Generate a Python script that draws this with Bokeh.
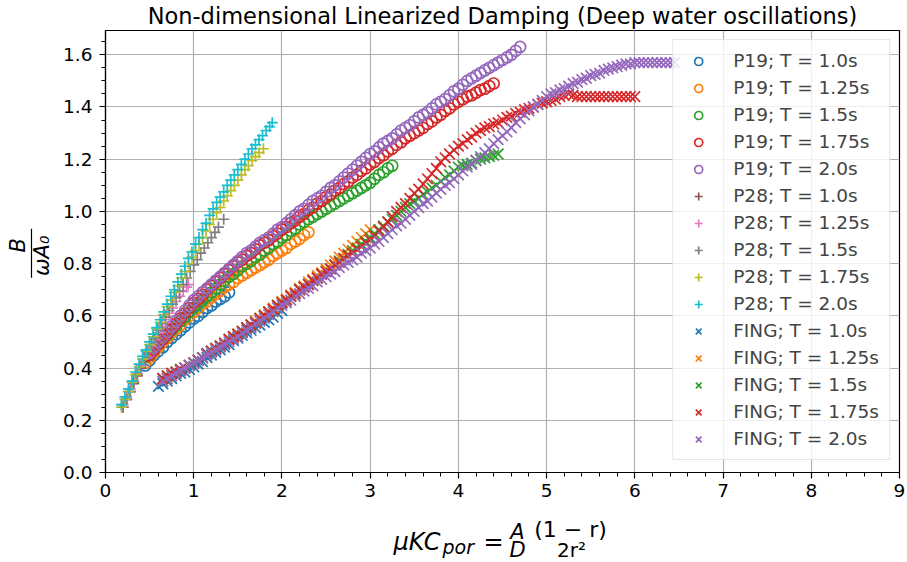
import math
from bokeh.plotting import figure
from bokeh.layouts import row, column
from bokeh.models import (Range1d, SingleIntervalTicker, NumeralTickFormatter, Legend,
                          LegendItem, ColumnDataSource)
from bokeh.core.properties import value
from bokeh.embed import file_html
from bokeh.resources import INLINE

TITLE = "Non-dimensional Linearized Damping (Deep water oscillations)"
PERIODS = ["1.0", "1.25", "1.5", "1.75", "2.0"]
COLORS = ["#1f77b4", "#ff7f0e", "#2ca02c", "#d62728", "#9467bd",
          "#8c564b", "#e377c2", "#7f7f7f", "#bcbd22", "#17becf"]

# ---- P19 (circles) ----
P19_T10 = [(0.45,0.41),(0.50,0.43),(0.55,0.45),(0.60,0.465),(0.65,0.48),(0.70,0.50),(0.75,0.515),
           (0.80,0.53),(0.85,0.545),(0.90,0.56),(0.95,0.575),(1.00,0.59),(1.05,0.60),(1.10,0.615),
           (1.15,0.63),(1.20,0.64),(1.25,0.655),(1.30,0.665),(1.35,0.675),(1.40,0.69)]
P19_T125 = [(0.45,0.42),(0.50,0.44),(0.55,0.46),(0.60,0.48),(0.65,0.50),(0.70,0.515),(0.75,0.535),
            (0.80,0.55),(0.85,0.565),(0.90,0.585),(0.95,0.60),(1.00,0.615),(1.05,0.63),(1.10,0.645),
            (1.15,0.655),(1.20,0.67),(1.25,0.685),(1.30,0.695),(1.35,0.71),(1.40,0.72),(1.45,0.73),
            (1.50,0.745),(1.55,0.755),(1.60,0.765),(1.65,0.775),(1.70,0.785),(1.75,0.795),(1.80,0.805),
            (1.85,0.815),(1.90,0.83),(1.95,0.84),(2.00,0.85),(2.05,0.86),(2.10,0.875),(2.15,0.885),
            (2.20,0.895),(2.25,0.91),(2.30,0.92)]
P19_T15 = [(0.50,0.45),(0.55,0.47),(0.60,0.49),(0.65,0.51),(0.70,0.525),(0.75,0.545),(0.80,0.56),
           (0.85,0.58),(0.90,0.595),(0.95,0.615),(1.00,0.63),(1.05,0.645),(1.10,0.66),(1.15,0.675),
           (1.20,0.69),(1.25,0.705),(1.30,0.72),(1.35,0.735),(1.40,0.75),(1.45,0.76),(1.50,0.775),
           (1.55,0.79),(1.60,0.80),(1.65,0.81),(1.70,0.825),(1.75,0.835),(1.80,0.85),(1.85,0.86),
           (1.90,0.875),(1.95,0.885),(2.00,0.90),(2.05,0.91),(2.10,0.925),(2.15,0.935),(2.20,0.95),
           (2.25,0.96),(2.30,0.97),(2.35,0.98),(2.40,0.99),(2.45,1.00),(2.50,1.01),(2.55,1.02),
           (2.60,1.03),(2.65,1.04),(2.70,1.05),(2.75,1.06),(2.80,1.07),(2.85,1.08),(2.90,1.09),
           (2.95,1.10),(3.00,1.11),(3.05,1.125),(3.10,1.14),(3.15,1.15),(3.20,1.165),(3.25,1.175)]
P19_T175 = [(0.50,0.45),(0.55,0.47),(0.60,0.49),(0.65,0.51),(0.70,0.53),(0.75,0.55),(0.80,0.57),
            (0.85,0.59),(0.90,0.61),(0.95,0.63),(1.00,0.65),(1.05,0.665),(1.10,0.68),(1.15,0.70),
            (1.20,0.715),(1.25,0.73),(1.30,0.745),(1.35,0.76),(1.40,0.775),(1.45,0.79),(1.50,0.805),
            (1.55,0.815),(1.60,0.83),(1.65,0.84),(1.70,0.855),(1.75,0.87),(1.80,0.88),(1.85,0.89),
            (1.90,0.905),(1.95,0.915),(2.00,0.93),(2.05,0.94),(2.10,0.955),(2.15,0.965),(2.20,0.98),
            (2.25,0.99),(2.30,1.005),(2.35,1.015),(2.40,1.03),(2.45,1.04),(2.50,1.055),(2.55,1.065),
            (2.60,1.08),(2.65,1.09),(2.70,1.105),(2.75,1.115),(2.80,1.13),(2.85,1.14),(2.90,1.155),
            (2.95,1.165),(3.00,1.18),(3.05,1.19),(3.10,1.205),(3.15,1.215),(3.20,1.23),(3.25,1.24),
            (3.30,1.255),(3.35,1.265),(3.40,1.28),(3.45,1.29),(3.50,1.30),(3.55,1.31),(3.60,1.32),
            (3.65,1.335),(3.70,1.345),(3.75,1.36),(3.80,1.37),(3.85,1.385),(3.90,1.395),(3.95,1.41),
            (4.00,1.42),(4.05,1.43),(4.10,1.44),(4.15,1.445),(4.20,1.455),(4.25,1.465),(4.30,1.47),
            (4.35,1.48),(4.40,1.49)]
P19_T20 = [(0.50,0.46),(0.55,0.48),(0.60,0.50),(0.65,0.52),(0.70,0.54),(0.75,0.56),(0.80,0.58),
           (0.85,0.60),(0.90,0.62),(0.95,0.64),(1.00,0.66),(1.05,0.675),(1.10,0.69),(1.15,0.705),
           (1.20,0.72),(1.25,0.735),(1.30,0.75),(1.35,0.765),(1.40,0.78),(1.45,0.795),(1.50,0.81),
           (1.55,0.825),(1.60,0.84),(1.65,0.85),(1.70,0.865),(1.75,0.88),(1.80,0.89),(1.85,0.90),
           (1.90,0.915),(1.95,0.93),(2.00,0.94),(2.05,0.955),(2.10,0.97),(2.15,0.985),(2.20,1.00),
           (2.25,1.01),(2.30,1.025),(2.35,1.04),(2.40,1.05),(2.45,1.06),(2.50,1.075),(2.55,1.09),
           (2.60,1.10),(2.65,1.115),(2.70,1.13),(2.75,1.145),(2.80,1.16),(2.85,1.175),(2.90,1.19),
           (2.95,1.205),(3.00,1.22),(3.05,1.23),(3.10,1.245),(3.15,1.26),(3.20,1.27),(3.25,1.28),
           (3.30,1.295),(3.35,1.31),(3.40,1.32),(3.45,1.33),(3.50,1.345),(3.55,1.36),(3.60,1.37),
           (3.65,1.38),(3.70,1.395),(3.75,1.41),(3.80,1.42),(3.85,1.43),(3.90,1.445),(3.95,1.46),
           (4.00,1.47),(4.05,1.485),(4.10,1.50),(4.15,1.51),(4.20,1.52),(4.25,1.53),(4.30,1.54),
           (4.35,1.55),(4.40,1.56),(4.45,1.57),(4.50,1.58),(4.55,1.59),(4.60,1.60),(4.65,1.615),
           (4.70,1.63)]

# ---- P28 (plus) ----
P28_T10 = [(0.20,0.25),(0.24,0.28),(0.28,0.31),(0.32,0.34),(0.36,0.37),(0.40,0.40),(0.44,0.425)]
P28_T125 = [(0.20,0.26),(0.24,0.29),(0.28,0.32),(0.32,0.35),(0.36,0.38),(0.40,0.41),(0.44,0.435),
            (0.48,0.46),(0.52,0.485),(0.56,0.51),(0.60,0.535),(0.64,0.56),(0.68,0.585),(0.72,0.61),
            (0.76,0.63),(0.80,0.655),(0.84,0.675),(0.88,0.695),(0.92,0.71),(0.94,0.72)]
P28_T15 = [(0.20,0.25),(0.24,0.28),(0.28,0.31),(0.32,0.345),(0.36,0.375),(0.40,0.405),(0.44,0.435),
           (0.48,0.46),(0.52,0.49),(0.56,0.515),(0.60,0.545),(0.64,0.57),(0.68,0.595),(0.72,0.62),
           (0.76,0.645),(0.80,0.67),(0.84,0.695),(0.88,0.72),(0.92,0.745),(0.96,0.77),(1.00,0.795),
           (1.04,0.815),(1.08,0.84),(1.12,0.86),(1.16,0.88),(1.20,0.90),(1.24,0.92),(1.28,0.94),
           (1.34,0.97)]
P28_T175 = [(0.18,0.25),(0.22,0.28),(0.26,0.31),(0.30,0.345),(0.34,0.375),(0.38,0.405),(0.42,0.435),
            (0.46,0.465),(0.50,0.49),(0.54,0.52),(0.58,0.55),(0.62,0.575),(0.66,0.605),(0.70,0.635),
            (0.74,0.66),(0.78,0.69),(0.82,0.715),(0.86,0.745),(0.90,0.77),(0.94,0.80),(0.98,0.825),
            (1.02,0.85),(1.06,0.875),(1.10,0.90),(1.14,0.925),(1.18,0.95),(1.22,0.97),(1.26,0.995),
            (1.30,1.015),(1.34,1.04),(1.38,1.06),(1.42,1.08),(1.46,1.10),(1.50,1.12),(1.54,1.14),
            (1.58,1.16),(1.62,1.175),(1.66,1.195),(1.70,1.21),(1.74,1.225),(1.79,1.24)]
P28_T20 = [(0.18,0.26),(0.22,0.29),(0.26,0.32),(0.30,0.35),(0.34,0.385),(0.38,0.415),(0.42,0.445),
           (0.46,0.47),(0.50,0.50),(0.54,0.53),(0.58,0.555),(0.62,0.585),(0.66,0.615),(0.70,0.645),
           (0.74,0.675),(0.78,0.70),(0.82,0.73),(0.86,0.76),(0.90,0.79),(0.94,0.82),(0.98,0.845),
           (1.02,0.875),(1.06,0.90),(1.10,0.93),(1.14,0.955),(1.18,0.985),(1.22,1.01),(1.26,1.035),
           (1.30,1.055),(1.34,1.075),(1.38,1.10),(1.42,1.12),(1.46,1.14),(1.50,1.16),(1.54,1.18),
           (1.58,1.20),(1.62,1.22),(1.66,1.24),(1.70,1.255),(1.74,1.275),(1.78,1.29),(1.82,1.31),
           (1.86,1.325),(1.89,1.34)]

# ---- FING (x) ----
FING_T10 = [(0.60,0.33),(0.65,0.34),(0.70,0.35),(0.75,0.36),(0.80,0.37),(0.85,0.38),(0.90,0.385),
            (0.95,0.395),(1.00,0.405),(1.05,0.415),(1.10,0.425),(1.15,0.44),(1.20,0.45),(1.25,0.46),
            (1.30,0.47),(1.35,0.48),(1.40,0.49),(1.45,0.505),(1.50,0.515),(1.55,0.525),(1.60,0.535),
            (1.65,0.545),(1.70,0.555),(1.75,0.565),(1.80,0.575),(1.85,0.585),(1.90,0.595),(1.95,0.61),
            (2.00,0.62)]
FING_T125 = [(0.65,0.35),(0.70,0.36),(0.75,0.37),(0.80,0.38),(0.85,0.39),(0.90,0.40),(0.95,0.41),
             (1.00,0.42),(1.05,0.43),(1.10,0.44),(1.15,0.455),(1.20,0.465),(1.25,0.475),(1.30,0.485),
             (1.35,0.495),(1.40,0.51),(1.45,0.52),(1.50,0.53),(1.55,0.54),(1.60,0.555),(1.65,0.565),
             (1.70,0.58),(1.75,0.59),(1.80,0.605),(1.85,0.615),(1.90,0.63),(1.95,0.64),(2.00,0.655),
             (2.05,0.665),(2.10,0.68),(2.15,0.69),(2.20,0.705),(2.25,0.715),(2.30,0.73),(2.35,0.74),
             (2.40,0.755),(2.45,0.765),(2.50,0.78),(2.55,0.795),(2.60,0.81),(2.65,0.825),(2.70,0.84),
             (2.75,0.855),(2.80,0.87),(2.85,0.885),(2.90,0.90),(2.95,0.915),(3.00,0.93)]
FING_T15 = [(0.65,0.36),(0.70,0.37),(0.75,0.38),(0.80,0.385),(0.85,0.395),(0.90,0.40),(0.95,0.41),
            (1.00,0.42),(1.05,0.43),(1.10,0.44),(1.15,0.455),(1.20,0.465),(1.25,0.475),(1.30,0.485),
            (1.35,0.495),(1.40,0.51),(1.45,0.52),(1.50,0.53),(1.55,0.54),(1.60,0.555),(1.65,0.565),
            (1.70,0.575),(1.75,0.59),(1.80,0.60),(1.85,0.615),(1.90,0.625),(1.95,0.64),(2.00,0.65),
            (2.05,0.66),(2.10,0.675),(2.15,0.685),(2.20,0.70),(2.25,0.71),(2.30,0.72),(2.35,0.735),
            (2.40,0.745),(2.45,0.76),(2.50,0.77),(2.55,0.78),(2.60,0.795),(2.65,0.81),(2.70,0.82),
            (2.75,0.835),(2.80,0.85),(2.85,0.86),(2.90,0.875),(2.95,0.885),(3.00,0.90),(3.05,0.915),
            (3.10,0.93),(3.15,0.945),(3.20,0.96),(3.25,0.97),(3.30,0.985),(3.35,1.00),(3.40,1.015),
            (3.45,1.03),(3.50,1.04),(3.55,1.05),(3.60,1.065),(3.65,1.075),(3.70,1.09),(3.75,1.10),
            (3.80,1.115),(3.85,1.13),(3.90,1.14),(3.95,1.155),(4.00,1.17),(4.05,1.175),(4.10,1.18),
            (4.15,1.185),(4.20,1.195),(4.25,1.20),(4.30,1.205),(4.35,1.21),(4.40,1.215),(4.45,1.22)]
FING_T175 = [(0.65,0.36),(0.70,0.37),(0.75,0.38),(0.80,0.385),(0.85,0.395),(0.90,0.40),(0.95,0.41),
             (1.00,0.42),(1.05,0.43),(1.10,0.44),(1.15,0.455),(1.20,0.465),(1.25,0.475),(1.30,0.485),
             (1.35,0.495),(1.40,0.51),(1.45,0.52),(1.50,0.53),(1.55,0.54),(1.60,0.555),(1.65,0.565),
             (1.70,0.575),(1.75,0.59),(1.80,0.60),(1.85,0.615),(1.90,0.625),(1.95,0.64),(2.00,0.65),
             (2.05,0.66),(2.10,0.675),(2.15,0.685),(2.20,0.70),(2.25,0.71),(2.30,0.72),(2.35,0.735),
             (2.40,0.745),(2.45,0.76),(2.50,0.77),(2.55,0.78),(2.60,0.795),(2.65,0.805),(2.70,0.82),
             (2.75,0.83),(2.80,0.84),(2.85,0.855),(2.90,0.865),(2.95,0.88),(3.00,0.89),(3.05,0.905),
             (3.10,0.925),(3.15,0.94),(3.20,0.96),(3.25,0.98),(3.30,1.00),(3.35,1.015),(3.40,1.03),
             (3.45,1.05),(3.50,1.07),(3.55,1.085),(3.60,1.105),(3.65,1.125),(3.70,1.145),(3.75,1.165),
             (3.80,1.19),(3.85,1.205),(3.90,1.22),(3.95,1.235),(4.00,1.25),(4.05,1.26),(4.10,1.275),
             (4.15,1.285),(4.20,1.30),(4.25,1.31),(4.30,1.32),(4.35,1.325),(4.40,1.335),(4.45,1.34),
             (4.50,1.35),(4.55,1.36),(4.60,1.365),(4.65,1.375),(4.70,1.38),(4.75,1.39),(4.80,1.395),
             (4.85,1.40),(4.90,1.41),(4.95,1.415),(5.00,1.42),(5.05,1.425),(5.10,1.43),(5.15,1.44),
             (5.20,1.445),(5.25,1.45),(5.30,1.445),(5.35,1.44),(5.40,1.44),(5.45,1.44),(5.50,1.44),
             (5.55,1.44),(5.60,1.44),(5.65,1.44),(5.70,1.44),(5.75,1.44),(5.80,1.44),(5.85,1.44),
             (5.90,1.44),(5.95,1.44),(6.00,1.44)]
FING_T20 = [(0.65,0.35),(0.70,0.36),(0.75,0.37),(0.80,0.38),(0.85,0.39),(0.90,0.40),(0.95,0.41),
            (1.00,0.42),(1.05,0.43),(1.10,0.44),(1.15,0.45),(1.20,0.46),(1.25,0.47),(1.30,0.48),
            (1.35,0.49),(1.40,0.50),(1.45,0.51),(1.50,0.52),(1.55,0.535),(1.60,0.545),(1.65,0.555),
            (1.70,0.57),(1.75,0.58),(1.80,0.59),(1.85,0.605),(1.90,0.615),(1.95,0.63),(2.00,0.64),
            (2.05,0.65),(2.10,0.66),(2.15,0.675),(2.20,0.685),(2.25,0.695),(2.30,0.705),(2.35,0.715),
            (2.40,0.73),(2.45,0.74),(2.50,0.75),(2.55,0.76),(2.60,0.77),(2.65,0.785),(2.70,0.795),
            (2.75,0.805),(2.80,0.815),(2.85,0.825),(2.90,0.84),(2.95,0.85),(3.00,0.86),(3.05,0.875),
            (3.10,0.885),(3.15,0.90),(3.20,0.915),(3.25,0.93),(3.30,0.945),(3.35,0.955),(3.40,0.97),
            (3.45,0.985),(3.50,1.00),(3.55,1.015),(3.60,1.03),(3.65,1.04),(3.70,1.055),(3.75,1.07),
            (3.80,1.085),(3.85,1.10),(3.90,1.11),(3.95,1.125),(4.00,1.14),(4.05,1.155),(4.10,1.17),
            (4.15,1.18),(4.20,1.195),(4.25,1.21),(4.30,1.225),(4.35,1.24),(4.40,1.26),(4.45,1.275),
            (4.50,1.29),(4.55,1.305),(4.60,1.32),(4.65,1.34),(4.70,1.355),(4.75,1.37),(4.80,1.385),
            (4.85,1.40),(4.90,1.41),(4.95,1.425),(5.00,1.44),(5.05,1.45),(5.10,1.455),(5.15,1.465),
            (5.20,1.47),(5.25,1.48),(5.30,1.49),(5.35,1.495),(5.40,1.505),(5.45,1.51),(5.50,1.52),
            (5.55,1.525),(5.60,1.53),(5.65,1.54),(5.70,1.545),(5.75,1.55),(5.80,1.555),(5.85,1.56),
            (5.90,1.565),(5.95,1.565),(6.00,1.57),(6.05,1.57),(6.10,1.57),(6.15,1.57),(6.20,1.57),
            (6.25,1.57),(6.30,1.57),(6.35,1.57),(6.40,1.57),(6.45,1.57)]

GROUPS = [
    ("P19", "circle", 11, [P19_T10, P19_T125, P19_T15, P19_T175, P19_T20], COLORS[0:5]),
    ("P28", "cross", 11, [P28_T10, P28_T125, P28_T15, P28_T175, P28_T20], COLORS[5:10]),
    ("FING", "x", 15, [FING_T10, FING_T125, FING_T15, FING_T175, FING_T20], COLORS[0:5]),
]

FONT = "DejaVu Sans"
TICK_FONT = "18.5px"

# ------------------------------------------------------------ main plot
p = figure(width=852, height=506, output_backend="svg", toolbar_location=None,
           x_range=Range1d(0, 9), y_range=Range1d(0, 1.693),
           min_border_left=50, min_border_right=8, min_border_top=30, min_border_bottom=34,
           title=TITLE)
p.background_fill_color = "white"
p.border_fill_color = "white"
p.outline_line_color = "black"
p.outline_line_width = 1.2
p.outline_line_alpha = 1.0

p.title.text_font = FONT
p.title.text_font_size = "22.5px"
p.title.text_font_style = "normal"
p.title.text_color = "black"
p.title.align = "center"
p.title.vertical_align = "top"
p.title.standoff = 0

p.xaxis.ticker = SingleIntervalTicker(interval=1, num_minor_ticks=5)
p.yaxis.ticker = SingleIntervalTicker(interval=0.2, num_minor_ticks=4)
p.xaxis.formatter = NumeralTickFormatter(format="0")
p.yaxis.formatter = NumeralTickFormatter(format="0.0")
for ax in (p.xaxis, p.yaxis):
    ax.axis_line_color = "black"
    ax.axis_line_width = 1.2
    ax.major_tick_line_color = "black"
    ax.major_tick_line_width = 1.2
    ax.major_tick_out = 6
    ax.major_tick_in = 0
    ax.minor_tick_line_color = "black"
    ax.minor_tick_line_width = 1
    ax.minor_tick_out = 4
    ax.minor_tick_in = 0
    ax.major_label_text_font = FONT
    ax.major_label_text_font_size = TICK_FONT
    ax.major_label_text_color = "black"
p.xaxis.major_label_standoff = 5
p.yaxis.major_label_standoff = 7

for g in (p.xgrid, p.ygrid):
    g.grid_line_color = "#b0b0b0"
    g.grid_line_width = 1.2
p.xgrid.ticker = SingleIntervalTicker(interval=1)
p.ygrid.ticker = SingleIntervalTicker(interval=0.2)

items = []
for group, marker, msize, datasets, cols in GROUPS:
    for period, data, col in zip(PERIODS, datasets, cols):
        xs, ys = zip(*data)
        src = ColumnDataSource(dict(x=list(xs), y=list(ys)))
        r = p.scatter("x", "y", source=src, marker=marker, size=msize,
                      fill_color=None, line_color=col, line_width=1.7)
        items.append(LegendItem(label=f"{group}; T = {period}s", renderers=[r]))

legend = Legend(items=items, location="top_right")
legend.label_text_font = FONT
legend.label_text_font_size = TICK_FONT
legend.border_line_color = "#cccccc"
legend.border_line_width = 1.2
legend.background_fill_color = "white"
legend.background_fill_alpha = 0.8
legend.padding = 10
legend.spacing = 6
legend.margin = 9
legend.label_height = 20
legend.glyph_height = 20
legend.glyph_width = 30
legend.label_standoff = 20
p.add_layout(legend, "center")


def text_panel(w, h):
    f = figure(width=w, height=h, output_backend="svg", toolbar_location=None,
               x_range=Range1d(0, w), y_range=Range1d(0, h),
               x_axis_type=None, y_axis_type=None,
               min_border_left=0, min_border_right=0, min_border_top=0, min_border_bottom=0)
    f.outline_line_color = None
    f.background_fill_color = "white"
    f.border_fill_color = "white"
    return f


def txt(f, x, y, s, size, style="normal", align="left", baseline="alphabetic", angle=0.0):
    f.text(x=[x], y=[y], text=[s], text_font=value(FONT), text_font_size=value(size),
           text_font_style=style, text_align=align, text_baseline=baseline,
           angle=angle, text_color="black")


# ------------------------------------------------------------ y-axis label  B / (omega A0)
pl = text_panel(55, 506)
txt(pl, 17, 260, "B", "21px", style="italic", align="center", baseline="middle", angle=math.pi / 2)
txt(pl, 41, 248, "ωA₀", "21px", style="italic", align="center", baseline="middle", angle=math.pi / 2)
pl.segment(x0=[31], y0=[223], x1=[31], y1=[279], line_color="black", line_width=1.2)

# ------------------------------------------------------------ x-axis label
pb = text_panel(907, 56)
txt(pb, 393, 21, "μKC", "24px", style="italic")
txt(pb, 442, 16, "por", "19px", style="italic")
txt(pb, 483, 21, "=", "24px")
txt(pb, 517, 31, "A", "21px", style="italic", align="center")
txt(pb, 517, 13, "D", "21px", style="italic", align="center")
txt(pb, 570, 33, "(1 − r)", "22px", align="center")
txt(pb, 571, 13, "2r²", "20px", align="center")

layout = column(row(pl, p, spacing=0), pb, spacing=0)
open("out.html", "w").write(file_html(layout, INLINE))
